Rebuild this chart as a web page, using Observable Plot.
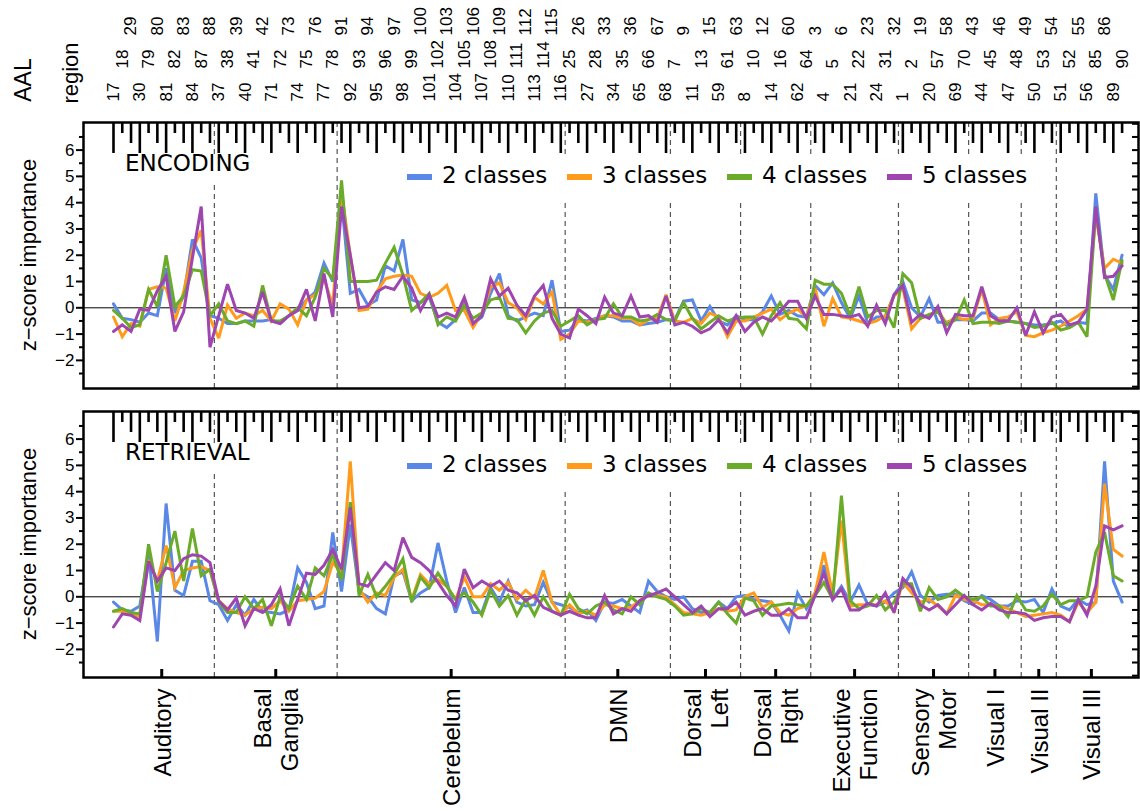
<!DOCTYPE html>
<html><head><meta charset="utf-8">
<script src="https://cdn.jsdelivr.net/npm/d3@7"></script>
<script src="https://cdn.jsdelivr.net/npm/@observablehq/plot@0.6"></script>
<style>
body{margin:0;background:#fff;}
#wrap{position:relative;width:1140px;height:812px;overflow:hidden;font-family:"Liberation Sans",Arial,sans-serif;}
#wrap svg{display:block;}
.ov{position:absolute;white-space:nowrap;line-height:1;}
.box{position:absolute;background:#fff;}
</style></head><body><div id="wrap"></div>
<script>
// ---------- data ----------
const aal = [17,18,29,30,79,80,81,82,83,84,87,88,
  37,38,39,40,41,42,71,72,73,74,75,76,77,78,
  91,92,93,94,95,96,97,98,99,100,101,102,103,104,105,106,107,108,109,110,111,112,113,114,115,116,
  25,26,27,28,33,34,35,36,65,66,67,68,
  7,9,11,13,15,59,61,63,
  8,10,12,14,16,60,62,64,
  3,4,5,6,21,22,23,24,31,32,
  1,2,19,20,57,58,69,70,
  43,44,45,46,47,48,
  49,50,53,54,
  51,52,55,56,85,86,89,90];
const groupNames = ["Auditory","Basal\nGanglia","Cerebelum","DMN","Dorsal\nLeft","Dorsal\nRight","Executive\nFunction","Sensory\nMotor","Visual I","Visual II","Visual III"];
const groupSizes = [12,14,26,12,8,8,10,8,6,4,8];
const seriesNames = ["2 classes","3 classes","4 classes","5 classes"];
const seriesColors = ["#5a88e6","#ff9a1a","#6aac2a","#9f45b0"];
const yTicks = [-2,-1,0,1,2,3,4,5,6];
const yHalfTicks = [-2.5,-1.5,-0.5,0.5,1.5,2.5,3.5,4.5,5.5,6.5];
const yRightTicks = [-3,-2.5,-2,-1.5,-1,-0.5,0,0.5,1,1.5,2,2.5,3,3.5,4,4.5,5,5.5,6,6.5,7];

// ENCODING
const enc2 = [0.15,-0.4,-0.45,-0.55,-0.2,-0.3,1.5,-0.2,0.45,2.6,1.9,-0.3,
  -0.4,-0.6,-0.6,-0.5,-0.5,-0.5,-0.45,-0.6,-0.3,-0.1,0.3,0.6,1.7,1.0,
  4.1,0.55,0.7,0.1,0.3,1.6,1.4,2.6,0.3,0.2,0.4,-0.55,-0.75,-0.45,0.15,-0.6,-0.35,0.55,1.3,-0.3,-0.5,-0.35,-0.2,-0.3,1.05,-0.9,
  -0.85,-0.45,-0.5,-0.4,-0.3,-0.35,-0.5,-0.5,-0.65,-0.6,-0.55,-0.45,
  -0.45,0.25,0.3,-0.5,0.05,-0.5,-0.65,-0.3,
  -0.45,-0.45,-0.15,0.45,-0.25,-0.1,-0.3,-0.35,
  0.85,0.5,0.95,0.2,-0.4,0.45,-0.6,-0.35,-0.35,0.5,
  1.0,0.0,-0.35,0.35,-0.55,-0.55,-0.45,-0.45,
  -0.5,-0.2,-0.2,-0.45,-0.5,-0.55,
  -0.6,-0.65,-0.65,-0.6,
  -0.5,-0.75,-0.55,-0.6,4.35,1.25,0.7,2.0];
const enc3 = [-0.35,-1.1,-0.6,-0.7,0.7,0.8,0.75,-0.5,0.6,2.2,2.95,-0.4,
  -1.15,0.1,-0.4,-0.2,-0.3,-0.1,-0.5,0.15,-0.05,-0.65,0.3,0.5,1.1,0.1,
  4.4,2.0,-0.1,-0.05,0.6,1.1,1.2,1.25,1.2,0.55,0.4,0.55,0.85,-0.1,-0.1,-0.75,-0.2,0.8,0.95,0.2,0.0,-0.45,0.4,0.15,0.6,-1.2,
  -1.0,-0.5,-0.55,-0.45,-0.3,-0.3,-0.4,-0.4,-0.65,-0.45,-0.4,0.5,
  -0.5,-0.55,-0.4,-0.6,-0.2,-0.35,-1.1,-0.5,
  -0.5,-0.35,-0.2,-0.05,-0.45,-0.2,-0.05,-0.35,
  0.75,-0.7,0.35,-0.35,-0.4,-0.5,-0.6,-0.5,-0.3,0.45,
  0.75,-0.8,-0.4,-0.3,-0.1,-0.6,-0.35,-0.45,
  -0.4,0.7,-0.65,-0.4,-0.35,-0.15,
  -1.05,-1.1,-0.95,-0.85,
  -0.7,-0.5,-0.3,-0.05,3.5,1.5,1.85,1.7];
const enc4 = [-0.1,-0.4,-0.75,-0.65,0.7,0.05,2.0,0.05,0.45,1.45,1.4,-0.3,
  0.15,-0.5,-0.6,-0.5,-0.7,0.85,-0.5,-0.5,-0.3,0.0,-0.3,0.4,1.5,1.1,
  4.85,1.0,1.0,1.0,1.05,1.7,2.3,1.25,-0.1,0.2,0.55,-0.65,-0.35,-0.5,0.1,-0.4,-0.2,0.3,0.4,-0.4,-0.45,-0.95,-0.5,-0.2,-0.1,-0.7,
  -0.5,-0.3,-0.65,-0.45,-0.4,0.15,-0.35,-0.35,-0.5,-0.45,-0.25,-0.45,
  -0.5,0.2,-0.4,-0.8,-0.55,-0.3,-0.5,-0.4,
  -0.35,-0.35,-1.0,-0.3,0.2,-0.4,-0.45,-0.8,
  1.05,0.9,0.9,0.55,-0.3,0.8,-0.35,-0.1,-0.1,-0.75,
  1.3,0.95,-0.4,-0.25,-0.15,-0.65,-0.45,0.3,
  -0.6,-0.55,-0.55,-0.6,-0.5,-0.55,
  -0.6,-0.75,-0.7,-0.55,
  -0.85,-0.75,-0.55,-1.1,3.75,1.3,0.3,1.8];
const enc5 = [-0.9,-0.65,-0.9,-0.05,-0.1,0.65,1.2,-0.9,-0.15,1.9,3.85,-1.5,
  -0.3,0.9,-0.1,-0.2,-0.4,0.6,-0.5,-0.6,-0.3,-0.1,0.7,-0.5,1.3,-0.35,
  3.85,2.0,0.0,0.05,0.6,0.8,0.7,1.2,0.75,-0.1,0.5,-0.35,-0.2,-0.35,0.4,-0.6,-0.3,1.1,0.45,0.75,0.1,-0.3,0.45,0.85,-0.4,-1.0,
  -1.15,-0.05,-0.3,-0.6,0.4,-0.2,-0.3,0.45,-0.35,-0.3,-0.55,0.45,
  -0.65,-0.55,-0.7,-0.95,-0.8,-0.45,-0.95,-0.3,
  -0.9,-0.55,-0.35,-0.5,-0.15,0.25,0.25,-0.4,
  0.45,-0.25,-0.25,-0.3,-0.35,-0.25,-0.7,0.1,-0.6,0.5,
  0.85,-0.55,-0.25,-0.4,0.05,-0.95,-0.25,-0.3,
  -0.3,0.8,-0.3,-0.5,-0.5,0.0,
  -1.05,-0.15,-0.95,-0.35,
  -0.25,-0.65,-0.55,-0.05,3.85,1.15,1.2,1.6];

// RETRIEVAL
const ret2 = [-0.2,-0.5,-0.55,-0.35,1.7,-1.7,3.55,0.25,0.05,1.35,1.35,-0.15,
  -0.3,-0.9,-0.3,-0.7,-0.1,-0.55,-0.6,-0.65,-0.5,1.1,0.55,-0.45,-0.35,2.45,
  0.2,2.75,0.2,0.0,-0.45,-0.65,0.8,0.95,-0.15,0.15,0.35,2.05,0.6,-0.6,0.35,-0.6,-0.6,0.35,-0.2,0.6,-0.2,-0.35,-0.3,0.55,-0.2,-0.3,
  -0.4,-0.6,-0.5,-0.9,-0.2,-0.25,-0.1,-0.35,-0.6,0.6,0.2,0.0,
  -0.1,0.0,-0.45,-0.6,-0.6,-0.2,-0.45,0.0,
  0.05,-0.1,-0.15,-0.2,-0.7,-1.3,0.15,-0.45,
  0.15,1.2,-0.1,0.4,-0.2,0.45,-0.3,-0.35,-0.2,0.15,
  0.35,0.95,0.05,-0.2,0.05,0.1,0.1,-0.15,
  -0.3,0.05,-0.1,-0.35,-0.35,-0.15,
  -0.2,-0.1,-0.6,0.3,
  -0.35,-0.5,-0.1,-0.3,-0.2,5.15,0.6,-0.2];
const ret3 = [-0.55,-0.55,-0.65,-0.75,1.4,0.6,1.95,0.35,1.0,1.1,1.15,1.0,
  -0.15,-0.45,-0.6,-0.7,-0.45,-0.4,-0.45,-0.15,-0.55,-0.15,-0.1,-0.05,0.2,1.3,
  0.9,5.15,0.3,-0.2,0.15,0.05,0.75,1.05,-0.1,0.85,0.5,0.65,0.4,-0.1,0.75,0.0,0.0,0.5,0.25,0.55,-0.1,0.25,-0.05,1.0,-0.2,-0.7,
  -0.3,-0.65,-0.55,-0.7,-0.3,-0.35,-0.45,-0.4,-0.15,0.1,0.05,0.0,
  -0.3,-0.6,-0.65,-0.7,-0.6,-0.45,-0.55,-0.5,
  0.0,0.15,-0.4,-0.2,-0.6,-0.7,-0.45,-0.35,
  0.15,1.7,0.1,2.9,-0.35,-0.3,-0.3,-0.3,-0.15,-0.55,
  0.55,0.15,-0.2,-0.1,-0.35,-0.65,0.05,-0.1,
  -0.15,-0.3,-0.3,-0.35,-0.45,-0.6,
  -0.75,-0.7,-0.65,-0.6,
  -0.7,-0.95,-0.2,-0.6,-0.2,4.3,1.8,1.55];
const ret4 = [-0.55,-0.45,-0.6,-0.65,2.0,0.2,1.3,2.5,0.6,2.6,0.8,1.05,
  -0.2,-0.6,-0.6,0.0,-0.45,-0.1,-1.1,0.0,-0.45,0.4,-0.1,1.1,0.8,1.6,
  0.65,3.6,0.05,0.85,0.0,0.4,0.85,1.45,-0.2,0.75,0.35,0.9,0.4,-0.1,0.15,-0.2,-0.7,0.25,-0.35,0.05,-0.7,-0.1,-0.7,0.0,-0.55,-0.7,
  0.1,-0.45,-0.65,-0.35,-0.2,-0.5,-0.65,0.0,-0.3,0.15,0.0,-0.1,
  -0.35,-0.7,-0.65,-0.45,-0.6,-0.2,-0.65,-1.0,
  -0.05,-0.15,-0.7,-0.35,-0.3,-0.25,-0.3,-0.35,
  0.05,0.55,-0.1,3.85,-0.15,-0.45,-0.35,0.05,-0.5,-0.2,
  0.5,0.5,-0.55,0.35,-0.1,0.0,0.25,0.0,
  -0.1,0.0,-0.35,-0.35,-0.75,0.05,
  -0.5,-0.55,-0.35,0.1,
  -0.3,-0.15,-0.15,0.0,1.7,2.45,0.8,0.6];
const ret5 = [-1.15,-0.65,-0.7,-0.9,1.35,0.6,1.1,1.0,1.45,1.6,1.55,1.3,
  -0.15,-0.5,-0.05,-1.1,-0.45,-0.6,-0.3,0.3,-1.1,-0.1,0.9,0.85,1.2,1.8,
  1.05,3.4,0.5,0.4,0.85,1.3,1.0,2.25,1.5,1.3,1.0,0.55,0.05,-0.35,1.05,0.35,0.6,0.4,0.6,0.25,0.15,-0.15,0.05,-0.4,-0.55,-0.7,
  -0.55,-0.7,-0.8,-0.8,0.05,-0.65,-0.45,-0.55,-0.15,0.05,0.15,0.3,
  0.0,-0.3,-0.6,-0.35,-0.75,-0.45,-0.45,-0.2,
  -0.7,-0.55,-0.45,-0.7,-0.7,-0.45,-0.8,-0.8,
  0.05,0.9,-0.1,0.3,-0.5,-0.5,-0.25,-0.35,0.15,-0.6,
  0.7,0.35,-0.3,-0.5,-0.3,-0.65,-0.3,0.05,
  -0.3,-0.5,-0.25,-0.5,-0.6,-0.6,
  -0.65,-0.9,-0.8,-0.75,
  -0.75,-0.95,-0.1,-0.7,0.4,2.7,2.55,2.7];

// ---------- geometry ----------
const W = 1140, ML = 83, MR = 2, PH = 266;
const X0 = -2.42, X1 = 117.87, Y0 = -3.07, Y1 = 7.05;
const pxX = (W - ML - MR) / (X1 - X0);
const pxY = PH / (Y1 - Y0);
const tickLen = [31, 11, 21];
const fmt = d => d < 0 ? "\u2212" + Math.abs(d) : String(d);

const posRows = aal.map((a, i) => ({pos: i + 1, label: String(a), row: i % 3}));
let acc = 0;
const groups = groupNames.map((n, i) => {
  const s = acc; acc += groupSizes[i];
  return {name: n, center: (s + 1 + acc) / 2, end: acc + 0.5};
});
const bounds = groups.slice(0, -1).map(g => g.end);

function panel(series, mt, mb, extra) {
  const marks = [
    Plot.ruleX(bounds, {x: d => d, stroke: "#555", strokeWidth: 1.2, strokeDasharray: "5,4"}),
    Plot.ruleY([0], {stroke: "#000", strokeWidth: 1}),
    ...series.map((s, k) => Plot.line(s.map((v, i) => ({pos: i + 1, v})),
      {x: "pos", y: "v", stroke: seriesColors[k], strokeWidth: 3, strokeLinejoin: "miter", strokeMiterlimit: 3})),
    Plot.frame({stroke: "#000", strokeWidth: 2.5}),
    Plot.ruleX(posRows, {x: "pos", y1: Y1, y2: d => Y1 - tickLen[d.row] / pxY, stroke: "#000", strokeWidth: 2.6}),
    Plot.ruleY(yHalfTicks, {y: d => d, x1: X0 - 4 / pxX, x2: X0, stroke: "#000", strokeWidth: 2}),
    Plot.ruleY(yRightTicks, {y: d => d, x1: X1 - 6 / pxX, x2: X1, stroke: "#000", strokeWidth: 2}),
    Plot.axisY(yTicks, {tickSize: 7, tickPadding: 2, strokeWidth: 2, fontSize: 17, tickFormat: fmt, label: null}),
    ...extra
  ];
  return Plot.plot({
    width: W, height: mt + PH + mb,
    marginTop: mt, marginBottom: mb, marginLeft: ML, marginRight: MR,
    x: {domain: [X0, X1], axis: null},
    y: {domain: [Y0, Y1], axis: null},
    style: {fontFamily: "'Liberation Sans', Arial, sans-serif", fontSize: "17px", color: "#000", background: "#fff", overflow: "visible"},
    marks
  });
}

const topLabels = [0, 1, 2].map(r => Plot.text(posRows.filter(d => d.row === r), {
  x: "pos", text: "label", frameAnchor: "top", rotate: -90, textAnchor: "start",
  lineAnchor: "middle", dy: -[21, 54, 87][r], fontSize: 17, fill: "#000"
}));

const bottomExtra = [
  Plot.ruleX(groups, {x: "center", y1: Y0, y2: Y0 + 8 / pxY, stroke: "#000", strokeWidth: 3}),
  Plot.text(groups, {x: "center", text: "name", frameAnchor: "bottom", rotate: -90, textAnchor: "end",
    lineAnchor: "middle", lineHeight: 1.15, dy: 11, fontSize: 24, fill: "#000"})
];

const wrap = document.getElementById("wrap");
const p1 = panel([enc2, enc3, enc4, enc5], 122, 10, topLabels);
const p2 = panel([ret2, ret3, ret4, ret5], 13, 135, bottomExtra);
wrap.appendChild(p1);
wrap.appendChild(p2);

// ---------- overlays (titles, panel labels, legends) ----------
function div(cls, style, text) {
  const d = document.createElement("div");
  d.className = cls; d.setAttribute("style", style);
  if (text != null) d.textContent = text;
  wrap.appendChild(d); return d;
}
function rotLabel(text, cx, cy, size) {
  div("ov", `left:${cx}px;top:${cy}px;font-size:${size}px;transform:translate(-50%,-50%) rotate(-90deg);`, text);
}
rotLabel("AAL", 23, 80, 23);
rotLabel("region", 71, 73, 22);
const panelTops = [122, 411];
const panelLabels = ["ENCODING", "RETRIEVAL"];
panelTops.forEach((t, j) => {
  rotLabel("z\u2212score importance", 29, t + PH / 2, 22);
  div("box", `left:116px;top:${t + 32}px;width:152px;height:28px;`);
  div("ov", `left:125px;top:${t + 29.5}px;font-size:23px;line-height:23px;font-family:'DejaVu Sans',sans-serif;`, panelLabels[j]);
  div("box", `left:395px;top:${t + 32}px;width:652px;height:49px;`);
  seriesNames.forEach((n, k) => {
    const x = 407 + 160 * k;
    div("box", `left:${x}px;top:${t + 52}px;width:25px;height:6px;background:${seriesColors[k]};`);
    div("ov", `left:${x + 35}px;top:${t + 42}px;font-size:23px;line-height:23px;font-family:'DejaVu Sans',sans-serif;`, n);
  });
});
</script></body></html>
